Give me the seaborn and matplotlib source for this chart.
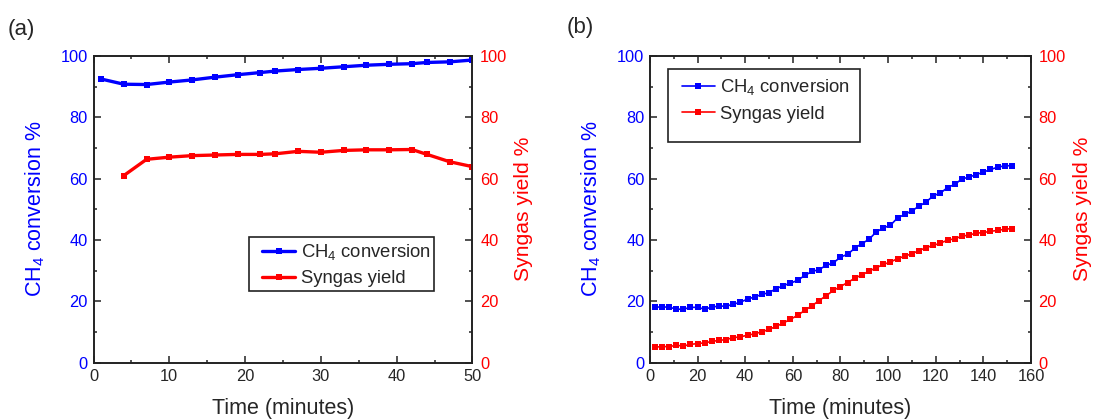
# ----- IMPORTS -----
import numpy as np
import matplotlib
matplotlib.use('Agg')
import matplotlib.pyplot as plt
from matplotlib.patches import Rectangle
from matplotlib.ticker import MultipleLocator
import seaborn as sns

# ----- DATA -----
# panel (a)
time_a = [1, 4, 7, 10, 13, 16, 19, 22, 24, 27, 30, 33, 36, 39, 42, 44, 47, 50]
ch4_a = [92.5, 90.8, 90.7, 91.5, 92.2, 93.1, 93.9, 94.6, 95.1, 95.6, 96.0, 96.5,
         97.0, 97.3, 97.5, 97.9, 98.1, 98.7]
time_a_syn = [4, 7, 10, 13, 16, 19, 22, 24, 27, 30, 33, 36, 39, 42, 44, 47, 50]
syngas_a = [61.0, 66.3, 67.0, 67.5, 67.7, 67.9, 67.9, 68.1, 68.9, 68.6, 69.2, 69.4,
            69.4, 69.5, 67.9, 65.5, 63.9]

# panel (b)
time_b = [2, 5, 8, 11, 14, 17, 20, 23, 26, 29, 32, 35, 38, 41, 44, 47, 50, 53, 56,
          59, 62, 65, 68, 71, 74, 77, 80, 83, 86, 89, 92, 95, 98, 101, 104, 107,
          110, 113, 116, 119, 122, 125, 128, 131, 134, 137, 140, 143, 146, 149, 152]
ch4_b = [18.1, 18.1, 18.1, 17.4, 17.4, 18.0, 18.0, 17.4, 18.1, 18.4, 18.4, 19.0,
         19.7, 20.7, 21.4, 22.2, 22.8, 24.1, 25.1, 25.9, 26.8, 28.4, 29.7, 30.3,
         31.7, 32.5, 34.4, 35.3, 37.3, 38.8, 40.2, 42.6, 43.9, 44.8, 47.2, 48.3,
         49.5, 51.0, 52.4, 54.4, 55.3, 57.1, 58.1, 59.9, 60.5, 61.3, 62.1, 63.0,
         63.7, 64.2, 64.2]
syngas_b = [5.0, 5.2, 5.2, 5.6, 5.4, 5.9, 6.2, 6.4, 6.9, 7.2, 7.5, 8.1, 8.4, 8.9,
            9.4, 10.0, 10.8, 11.8, 12.9, 14.1, 15.4, 17.0, 18.5, 20.2, 21.8, 23.5,
            24.8, 26.1, 27.5, 28.6, 29.8, 30.9, 32.0, 32.8, 33.9, 34.7, 35.5, 36.5,
            37.5, 38.2, 39.0, 39.9, 40.4, 41.2, 41.6, 42.2, 42.4, 42.8, 43.1, 43.5,
            43.7]

labels = ['CH$_\\mathregular{4}$ conversion', 'Syngas yield']

# ----- STYLE -----
sns.set_style('ticks')
plt.rcParams['font.family'] = ['Liberation Sans', 'DejaVu Sans']
plt.rcParams['mathtext.fontset'] = 'custom'
plt.rcParams['mathtext.rm'] = 'Liberation Sans'
plt.rcParams['mathtext.it'] = 'Liberation Sans:italic'
plt.rcParams['mathtext.bf'] = 'Liberation Sans:bold'

blue = '#0000ff'
red = '#ff0000'
spine_col = '#222222'

fig = plt.figure(figsize=(10.95, 4.19), dpi=100)
ax_a = fig.add_axes([0.0854, 0.1348, 0.3461, 0.7315])
ax_b = fig.add_axes([0.5936, 0.1348, 0.3479, 0.7315])


def style_axes(ax, ax2, xmax, xmajor, xminor):
    ax.set_xlim(0, xmax)
    ax.set_ylim(0, 100)
    ax2.set_ylim(0, 100)
    ax.xaxis.set_major_locator(MultipleLocator(xmajor))
    ax.xaxis.set_minor_locator(MultipleLocator(xminor))
    for a in (ax, ax2):
        a.yaxis.set_major_locator(MultipleLocator(20))
        a.yaxis.set_minor_locator(MultipleLocator(10))
        for s in a.spines.values():
            s.set_visible(True)
            s.set_color(spine_col)
            s.set_linewidth(1.2)
    ax.tick_params(axis='both', which='both', direction='in', top=True, right=False,
                   color=spine_col, width=1.1, labelsize=11.8, pad=4)
    ax.tick_params(axis='x', which='both', pad=5)
    ax.tick_params(which='major', length=4.8)
    ax.tick_params(which='minor', length=2.4)
    ax.tick_params(axis='y', labelcolor=blue)
    ax2.tick_params(axis='y', which='both', direction='in', left=False, right=True,
                    color=spine_col, width=1.1, labelsize=11.8, labelcolor=red, pad=5.5)
    ax2.tick_params(axis='y', which='major', length=4.8)
    ax2.tick_params(axis='y', which='minor', length=2.4)
    ax.set_xlabel('Time (minutes)', fontsize=15.5, labelpad=10)
    ax.set_ylabel('CH$_\\mathregular{4}$ conversion %', fontsize=15.5, color=blue, labelpad=10)
    ax2.set_ylabel('Syngas yield %', fontsize=15.2, color=red, labelpad=5)


# ----- PANEL (a) -----
ax_a2 = ax_a.twinx()
sns.lineplot(x=time_a, y=ch4_a, ax=ax_a, color=blue, marker='s', markersize=5,
             markeredgewidth=0, linewidth=2.4, label=labels[0])
sns.lineplot(x=time_a_syn, y=syngas_a, ax=ax_a2, color=red, marker='s', markersize=5,
             markeredgewidth=0, linewidth=2.4, label=labels[1])
style_axes(ax_a, ax_a2, 50, 10, 5)

# ----- PANEL (b) -----
ax_b2 = ax_b.twinx()
sns.lineplot(x=time_b, y=ch4_b, ax=ax_b, color=blue, marker='s', markersize=4.6,
             markeredgewidth=0, linewidth=1.2, label=labels[0])
sns.lineplot(x=time_b, y=syngas_b, ax=ax_b2, color=red, marker='s', markersize=4.6,
             markeredgewidth=0, linewidth=1.2, label=labels[1])
style_axes(ax_b, ax_b2, 160, 20, 10)

# ----- LEGENDS -----
for ax, ax2, anchor, box in [(ax_a, ax_a2, (0.4446, 0.319), (0.410, 0.233, 0.488, 0.176)),
                             (ax_b, ax_b2, (0.0832, 0.857), (0.048, 0.720, 0.503, 0.237))]:
    for a in (ax, ax2):
        if a.get_legend() is not None:
            a.get_legend().remove()
    handles = ax.get_lines()[:1] + ax2.get_lines()[:1]
    ax2.legend(handles, labels, loc='center left', bbox_to_anchor=anchor, frameon=False,
               fontsize=13.3, borderpad=0, borderaxespad=0, handlelength=1.8,
               handletextpad=0.3, labelspacing=0.45, numpoints=1)
    ax2.add_patch(Rectangle(box[:2], box[2], box[3], transform=ax2.transAxes, fill=False,
                            edgecolor=spine_col, linewidth=1.2, clip_on=False))

fig.text(8 / 1095, 1 - 29 / 419, '(a)', fontsize=16, ha='left', va='center')
fig.text(567 / 1095, 1 - 27 / 419, '(b)', fontsize=16, ha='left', va='center')

fig.savefig('out.png', dpi=100)
